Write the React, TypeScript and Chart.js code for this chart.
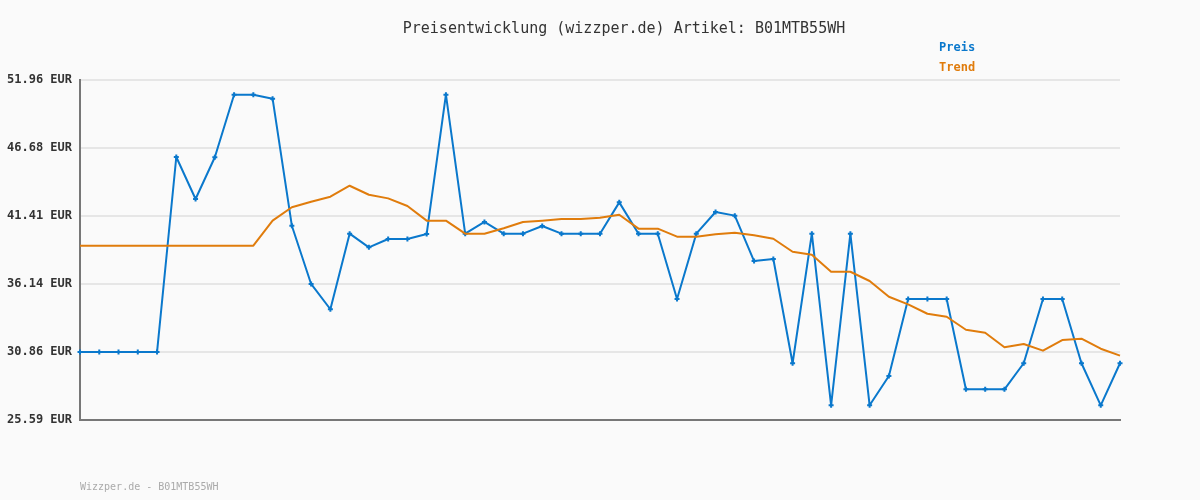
import React, { useEffect, useRef } from "react";
import { Chart, registerables } from "chart.js";

Chart.register(...registerables);

const titleText = "Preisentwicklung (wizzper.de) Artikel: B01MTB55WH";
const footerText = "Wizzper.de - B01MTB55WH";

const priceValues = [
  30.86, 30.86, 30.86, 30.86, 30.86, 45.99, 42.73, 45.97, 50.82, 50.82,
  50.51, 40.66, 36.14, 34.18, 40.04, 38.98, 39.63, 39.63, 40.02, 50.82,
  40.04, 40.95, 40.04, 40.04, 40.64, 40.04, 40.04, 40.04, 42.47, 40.04,
  40.04, 34.97, 40.04, 41.72, 41.44, 37.92, 38.08, 29.99, 40.04, 26.73,
  40.04, 26.73, 29.0, 34.97, 34.97, 34.97, 27.97, 27.97, 27.97, 29.99,
  34.97, 34.97, 29.99, 26.73, 29.99,
];

const trendValues = [
  39.11, 39.11, 39.11, 39.11, 39.11, 39.11, 39.11, 39.11, 39.11, 39.11,
  41.05, 42.09, 42.52, 42.91, 43.76, 43.06, 42.78, 42.19, 41.05, 41.05,
  40.04, 40.04, 40.46, 40.95, 41.05, 41.18, 41.18, 41.28, 41.51, 40.43,
  40.43, 39.81, 39.81, 39.99, 40.12, 39.92, 39.65, 38.64, 38.41, 37.09,
  37.09, 36.37, 35.15, 34.56, 33.83, 33.6, 32.59, 32.36, 31.23, 31.48,
  30.97, 31.79, 31.9, 31.12, 30.58,
];

const categories = priceValues.map((_, i) => String(i + 1));

const yTicks = [25.59, 30.86, 36.14, 41.41, 46.68, 51.96];

const BLUE = "#0a78cc";
const ORANGE = "#e07c0c";
const MONO = '"DejaVu Sans Mono", "Liberation Mono", monospace';

export default function App() {
  const canvasRef = useRef<HTMLCanvasElement | null>(null);

  useEffect(() => {
    const canvas = canvasRef.current;
    if (!canvas) return;
    const chart = new Chart(canvas, {
      type: "line",
      data: {
        labels: categories,
        datasets: [
          {
            label: "Trend",
            data: trendValues,
            borderColor: ORANGE,
            backgroundColor: ORANGE,
            borderWidth: 2,
            borderJoinStyle: "round",
            pointRadius: 0,
            tension: 0,
            clip: false as any,
          },
          {
            label: "Preis",
            data: priceValues,
            borderColor: BLUE,
            backgroundColor: BLUE,
            borderWidth: 2,
            borderJoinStyle: "round",
            pointStyle: "cross",
            pointRadius: 2.5,
            pointBorderWidth: 2,
            pointBorderColor: BLUE,
            tension: 0,
            clip: false as any,
          },
        ],
      },
      options: {
        responsive: false,
        animation: false,
        layout: { padding: { top: 80, right: 80, left: 0, bottom: 0 } },
        plugins: {
          legend: { display: false },
          title: { display: false },
          tooltip: { enabled: false },
        },
        scales: {
          x: {
            type: "category",
            offset: false,
            ticks: { display: false },
            grid: { display: false, drawTicks: false },
            border: { display: true, color: "#777777", width: 2 },
            afterFit: (scale: any) => {
              scale.height = 80;
            },
          },
          y: {
            min: yTicks[0],
            max: yTicks[yTicks.length - 1],
            afterBuildTicks: (scale: any) => {
              scale.ticks = yTicks.map((v) => ({ value: v }));
            },
            afterFit: (scale: any) => {
              scale.width = 80;
            },
            ticks: {
              padding: 8,
              color: "#333333",
              font: { family: MONO, size: 12, weight: "bold" },
              callback: (v: any) => Number(v).toFixed(2) + " EUR",
            },
            grid: { color: "#e6e6e6", lineWidth: 2, drawTicks: false },
            border: { display: true, color: "#777777", width: 2 },
          },
        },
      } as any,
    });
    return () => chart.destroy();
  }, []);

  return (
    <div
      style={{
        position: "absolute",
        left: 0,
        top: 0,
        width: 1200,
        height: 500,
        background: "#fafafa",
        overflow: "hidden",
      }}
    >
      <canvas
        ref={canvasRef}
        width={1200}
        height={500}
        style={{ position: "absolute", left: 0, top: 0, width: 1200, height: 500 }}
      />
      <div
        style={{
          position: "absolute",
          left: 0,
          width: 1248,
          top: 19,
          textAlign: "center",
          fontFamily: MONO,
          fontSize: 15,
          color: "#333333",
          lineHeight: "18px",
        }}
      >
        {titleText}
      </div>
      <div
        style={{
          position: "absolute",
          left: 939,
          top: 37,
          fontFamily: MONO,
          fontSize: 12,
          fontWeight: "bold",
          lineHeight: "20px",
        }}
      >
        <div style={{ color: BLUE }}>Preis</div>
        <div style={{ color: ORANGE }}>Trend</div>
      </div>
      <div
        style={{
          position: "absolute",
          left: 80,
          top: 480,
          fontFamily: MONO,
          fontSize: 10,
          color: "#aaaaaa",
          lineHeight: "14px",
        }}
      >
        {footerText}
      </div>
    </div>
  );
}
